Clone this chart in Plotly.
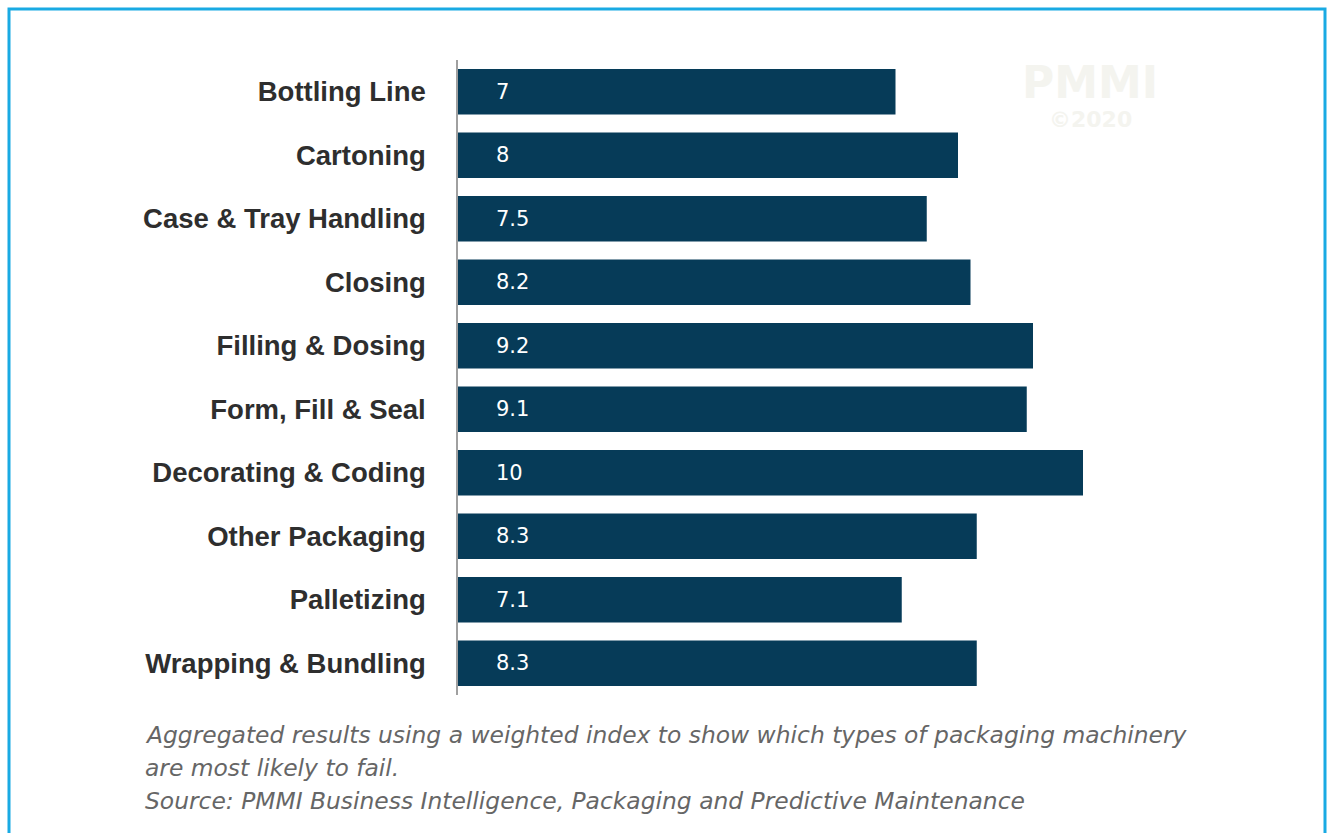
import plotly.graph_objects as go

# Machinery categories (top to bottom) and their weighted failure index
categories = [
    "Bottling Line",
    "Cartoning",
    "Case & Tray Handling",
    "Closing",
    "Filling & Dosing",
    "Form, Fill & Seal",
    "Decorating & Coding",
    "Other Packaging",
    "Palletizing",
    "Wrapping & Bundling",
]
scores = [7, 8, 7.5, 8.2, 9.2, 9.1, 10, 8.3, 7.1, 8.3]

caption_lines = [
    "Aggregated results using a weighted index to show which types of packaging machinery",
    "are most likely to fail.",
    "Source: PMMI Business Intelligence, Packaging and Predictive Maintenance",
]

BAR_COLOR = "#063B58"
FRAME_COLOR = "#19AAE3"
LABEL_COLOR = "#2E2E2E"
CAPTION_COLOR = "#666666"
MARK_COLOR = "#F4F4EF"

W, H = 1329, 833
ML, MR, MT, MB = 458, 121, 60, 138
PW, PH = W - ML - MR, H - MT - MB


def px_x(px):
    """Pixel column -> paper x coordinate."""
    return (px - ML) / PW


def px_y(py):
    """Pixel row -> paper y coordinate."""
    return (H - MB - py) / PH


fig = go.Figure(
    go.Bar(
        x=scores,
        y=categories,
        orientation="h",
        width=0.72,
        marker=dict(color=BAR_COLOR, line=dict(width=0)),
        hoverinfo="x+y",
    )
)

# value labels, left-aligned inside each bar
for cat, val in zip(categories, scores):
    fig.add_annotation(
        x=0, y=cat, xref="x", yref="y",
        text=f"{val:g}", showarrow=False,
        xanchor="left", yanchor="middle", xshift=36,
        font=dict(family="DejaVu Sans, sans-serif", size=21, color="white"),
    )

# caption beneath the chart
for i, line in enumerate(caption_lines):
    fig.add_annotation(
        x=px_x(143), y=px_y(735 + 33 * i), xref="paper", yref="paper",
        text=f"<i>{line}</i>", showarrow=False,
        xanchor="left", yanchor="middle",
        font=dict(family="DejaVu Sans, sans-serif", size=23.4, color=CAPTION_COLOR),
    )

# faint watermark
fig.add_annotation(
    x=px_x(1090), y=px_y(83), xref="paper", yref="paper",
    text="<b>PMMI</b>", showarrow=False,
    xanchor="center", yanchor="middle",
    font=dict(family="DejaVu Sans, sans-serif", size=44, color=MARK_COLOR),
)
fig.add_annotation(
    x=px_x(1090), y=px_y(119), xref="paper", yref="paper",
    text="<b>©2020</b>", showarrow=False,
    xanchor="center", yanchor="middle",
    font=dict(family="DejaVu Sans, sans-serif", size=22, color=MARK_COLOR),
)

# frame around the figure
fig.add_shape(
    type="rect", xref="paper", yref="paper",
    x0=px_x(9), x1=px_x(1325), y0=px_y(860), y1=px_y(9),
    line=dict(color=FRAME_COLOR, width=3), fillcolor="rgba(0,0,0,0)",
    layer="below",
)

fig.update_layout(
    width=W, height=H,
    margin=dict(l=ML, r=MR, t=MT, b=MB),
    paper_bgcolor="white",
    plot_bgcolor="white",
    showlegend=False,
    bargap=0.28,
)
fig.update_xaxes(
    range=[0, 12], visible=False, showgrid=False, zeroline=False,
)
fig.update_yaxes(
    autorange="reversed",
    showline=True, linecolor="#A0A0A0", linewidth=1.5,
    showgrid=False, zeroline=False, ticks="",
    ticklabelstandoff=25,
    tickfont=dict(family="Liberation Sans, Arial, sans-serif", size=27.5,
                  color=LABEL_COLOR, weight="bold"),
)

fig.write_html("out.html")
